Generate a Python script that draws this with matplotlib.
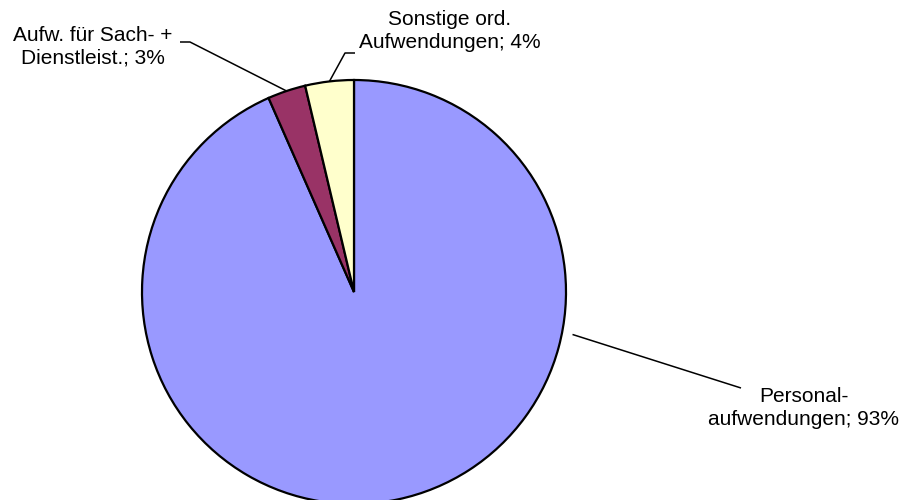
import numpy as np
import matplotlib
matplotlib.use("Agg")
import matplotlib.pyplot as plt

plt.rcParams['font.family'] = ['Liberation Sans', 'DejaVu Sans']

# Daten
kategorien = ['Personal-\naufwendungen', 'Aufw. für Sach- +\nDienstleist.', 'Sonstige ord.\nAufwendungen']
anteile = [93.4, 2.9, 3.7]
farben = ['#9999FF', '#993366', '#FFFFCC']

# Layout (Pixel, y von oben)
W, H = 903, 500
mitte = (354, 292)
radius = 212

fig = plt.figure(figsize=(W / 100, H / 100), dpi=100)
ax = fig.add_axes([0, 0, 1, 1])

wedges, _ = ax.pie(anteile, colors=farben, startangle=90, counterclock=False,
                   center=(mitte[0], H - mitte[1]), radius=radius,
                   wedgeprops=dict(edgecolor='black', linewidth=1.6))
ax.set_xlim(0, W)
ax.set_ylim(0, H)
ax.set_aspect('equal')
ax.axis('off')

# Beschriftungen: Textmitte, Knick, Anschlusswinkel (None = Mitte des Segments), Radiusfaktor
label_layout = [
    dict(text=(804, 408), knick=[(741, 388)], winkel=-11, rf=1.05),
    dict(text=(93, 47), knick=[(190, 42), (180, 42)], winkel=None, rf=1.0),
    dict(text=(450, 31), knick=[(345, 53), (355, 53)], winkel=None, rf=1.0),
]

gesamt = sum(anteile)
for w, name, wert, lay in zip(wedges, kategorien, anteile, label_layout):
    ang = lay['winkel'] if lay['winkel'] is not None else (w.theta1 + w.theta2) / 2
    r = radius * lay['rf']
    x0 = mitte[0] + r * np.cos(np.radians(ang))
    y0 = (H - mitte[1]) + r * np.sin(np.radians(ang))
    xs = [x0] + [p[0] for p in lay['knick']]
    ys = [y0] + [H - p[1] for p in lay['knick']]
    ax.plot(xs, ys, color='black', linewidth=1.1, solid_capstyle='butt')
    ax.text(lay['text'][0], H - lay['text'][1],
            f"{name}; {round(wert / gesamt * 100)}%",
            ha='center', va='center', fontsize=15, linespacing=1.25)

fig.savefig('out.png', dpi=100)
